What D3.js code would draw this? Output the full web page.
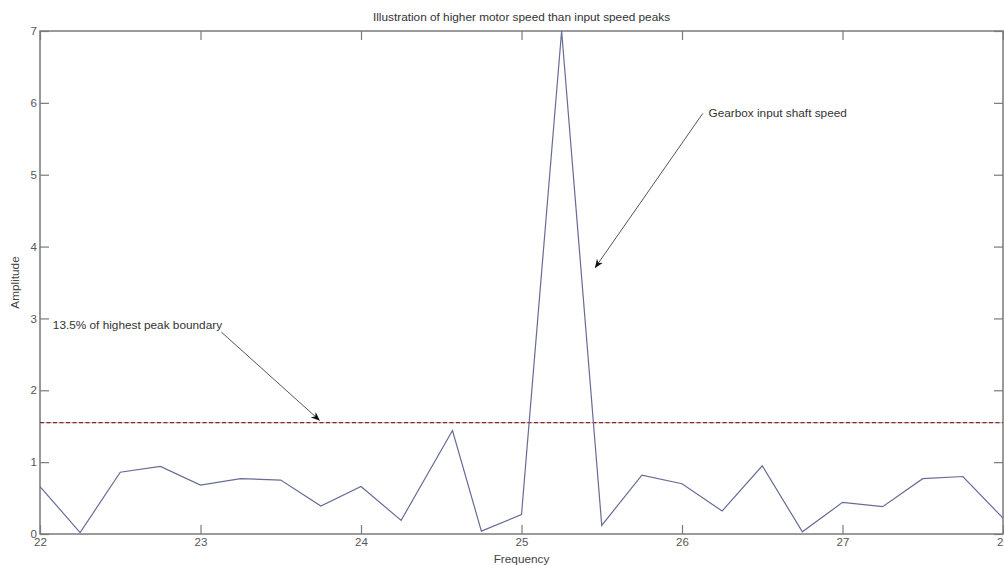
<!DOCTYPE html>
<html>
<head>
<meta charset="utf-8">
<script src="https://cdn.jsdelivr.net/npm/d3@7"></script>
<style>
  html, body { margin: 0; padding: 0; background: #fff; }
  svg { display: block; font-family: "Liberation Sans", Arial, sans-serif; }
</style>
</head>
<body>
<div id="chart"></div>
<script>
// spectrum samples (frequency, amplitude)
const freqs = [22, 22.25, 22.5, 22.75, 23, 23.25, 23.5, 23.75, 24, 24.25, 24.57, 24.75, 25, 25.25, 25.5, 25.75, 26, 26.25, 26.5, 26.75, 27, 27.25, 27.5, 27.75, 28];
const amps = [0.66, 0.02, 0.86, 0.94, 0.68, 0.77, 0.75, 0.39, 0.66, 0.19, 1.44, 0.04, 0.27, 7.0, 0.12, 0.82, 0.70, 0.32, 0.95, 0.03, 0.44, 0.38, 0.77, 0.80, 0.22];
const threshold = 1.55;
const xTicks = [22, 23, 24, 25, 26, 27, 28];
const yTicks = [0, 1, 2, 3, 4, 5, 6, 7];
// annotations: text position and arrow start/end in data units
const notes = [
  {text: '13.5% of highest peak boundary', tx: 22.08, ty: 2.91, x1: 23.13, y1: 2.81, x2: 23.74, y2: 1.585},
  {text: 'Gearbox input shaft speed', tx: 26.165, ty: 5.855, x1: 26.13, y1: 5.855, x2: 25.46, y2: 3.71}
];

const width = 1004, height = 565;
const margin = {top: 31, right: 1, bottom: 31, left: 40};
const font = '"Liberation Sans", Arial, sans-serif';
const textSize = 11.8;

const x = d3.scaleLinear().domain([22, 28]).range([margin.left, width - margin.right]);
const y = d3.scaleLinear().domain([0, 7]).range([height - margin.bottom, margin.top]);

const svg = d3.select('#chart').append('svg')
  .attr('width', width)
  .attr('height', height)
  .attr('viewBox', [0, 0, width, height]);

svg.append('defs').append('marker')
  .attr('id', 'arrow')
  .attr('viewBox', '0 0 10 10')
  .attr('refX', 9).attr('refY', 5)
  .attr('markerWidth', 9).attr('markerHeight', 9)
  .attr('markerUnits', 'userSpaceOnUse')
  .attr('orient', 'auto')
  .append('path')
  .attr('d', 'M0,1 L10,5 L0,9 L3,5 Z')
  .attr('fill', '#111');

const axisColor = '#7a7a7a';
const tickLen = 9;

// box
svg.append('rect')
  .attr('x', x(22)).attr('y', y(7))
  .attr('width', x(28) - x(22)).attr('height', y(0) - y(7))
  .attr('fill', 'none').attr('stroke', axisColor).attr('stroke-width', 1.5);

// inward ticks on all four sides
const styleAxis = g => {
  g.select('.domain').remove();
  g.selectAll('.tick line').attr('stroke', axisColor).attr('stroke-width', 1.2);
  g.selectAll('.tick text').attr('fill', '#555').attr('font-size', 11.5).attr('font-family', font);
};

svg.append('g')
  .attr('transform', `translate(0,${y(0)})`)
  .call(d3.axisBottom(x).tickValues(xTicks).tickSize(-tickLen).tickPadding(4).tickFormat(d => d))
  .call(styleAxis);
svg.append('g')
  .attr('transform', `translate(0,${y(7)})`)
  .call(d3.axisTop(x).tickValues(xTicks).tickSize(-tickLen).tickFormat(''))
  .call(styleAxis);
svg.append('g')
  .attr('transform', `translate(${x(22)},0)`)
  .call(d3.axisLeft(y).tickValues(yTicks).tickSize(-tickLen).tickPadding(3).tickFormat(d => d))
  .call(styleAxis);
svg.append('g')
  .attr('transform', `translate(${x(28)},0)`)
  .call(d3.axisRight(y).tickValues(yTicks).tickSize(-tickLen).tickFormat(''))
  .call(styleAxis);

// threshold line: red with dark dashes
svg.append('line')
  .attr('x1', x(22)).attr('x2', x(28))
  .attr('y1', y(threshold)).attr('y2', y(threshold))
  .attr('stroke', '#f2b4b4').attr('stroke-width', 1.2);
svg.append('line')
  .attr('x1', x(22)).attr('x2', x(28))
  .attr('y1', y(threshold)).attr('y2', y(threshold))
  .attr('stroke', '#6e3434').attr('stroke-width', 1.3)
  .attr('stroke-dasharray', '4,2.5');

// spectrum line
const line = d3.line()
  .x((d, i) => x(freqs[i]))
  .y(d => y(d));
svg.append('path')
  .attr('d', line(amps))
  .attr('fill', 'none')
  .attr('stroke', '#676c95')
  .attr('stroke-width', 1.2)
  .attr('stroke-linejoin', 'miter');

// annotations
const ann = svg.append('g');
notes.forEach(n => {
  ann.append('line')
    .attr('x1', x(n.x1)).attr('y1', y(n.y1))
    .attr('x2', x(n.x2)).attr('y2', y(n.y2))
    .attr('stroke', '#555').attr('stroke-width', 1)
    .attr('marker-end', 'url(#arrow)');
  ann.append('text')
    .attr('x', x(n.tx)).attr('y', y(n.ty))
    .attr('dy', '0.35em')
    .attr('font-size', textSize)
    .attr('fill', '#333')
    .text(n.text);
});

// title and axis labels
svg.append('text')
  .attr('x', (x(22) + x(28)) / 2).attr('y', 17)
  .attr('dy', '0.35em')
  .attr('text-anchor', 'middle')
  .attr('font-size', textSize).attr('fill', '#333')
  .text('Illustration of higher motor speed than input speed peaks');

svg.append('text')
  .attr('x', (x(22) + x(28)) / 2).attr('y', 559)
  .attr('dy', '0.35em')
  .attr('text-anchor', 'middle')
  .attr('font-size', textSize).attr('fill', '#444')
  .text('Frequency');

svg.append('text')
  .attr('transform', `translate(15,${(y(0) + y(7)) / 2}) rotate(-90)`)
  .attr('dy', '0.35em')
  .attr('text-anchor', 'middle')
  .attr('font-size', textSize).attr('fill', '#444')
  .text('Amplitude');
</script>
</body>
</html>
